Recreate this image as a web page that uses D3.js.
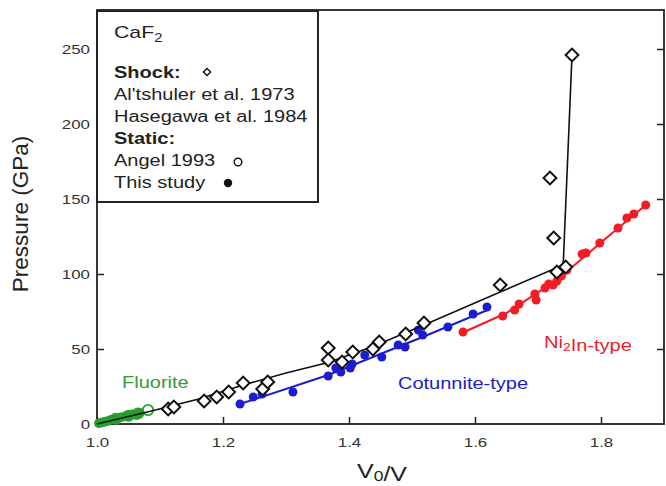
<!DOCTYPE html>
<html><head><meta charset="utf-8">
<script src="https://cdn.jsdelivr.net/npm/d3@7"></script>
<style>body{margin:0;background:#fff}svg{display:block}text{font-family:"Liberation Sans",Arial,sans-serif}</style>
</head><body><svg id="c" width="666" height="486"></svg>
<script>
// ---- data ----
const xTicks = [1.0, 1.2, 1.4, 1.6, 1.8];
const yTicks = [0, 50, 100, 150, 200, 250];
// Shock (Al'tshuler 1973, Hasegawa 1984) open diamonds
const shockV = [1.113,1.122,1.170,1.190,1.209,1.232,1.263,1.271,1.367,1.367,1.389,1.406,1.438,1.448,1.490,1.519,1.640,1.730,1.744,1.725,1.719,1.754];
const shockP = [10,11.3,15.3,18,21.3,27.3,23.3,28,50.7,42.7,41.3,48,50,54.7,60,67.3,92.7,101.3,104.7,124,164,246];
// Shock fit line
const shockLineV = [1.0,1.03,1.08,1.16,1.232,1.30,1.367,1.44,1.519,1.64,1.740,1.754];
const shockLineP = [0,3,8,16.5,26,34,41,52,66,88,106,246];
// Fluorite (this study) filled
const fluoV = [1.003,1.008,1.012,1.017,1.022,1.027,1.032,1.038,1.044,1.050,1.056,1.062,1.068];
const fluoP = [0.5,1,1.5,2,2.8,3.2,3.5,4.5,5,5.5,6.5,6,7.5];
// Angel 1993 open circles
const angelV = [1.030,1.050,1.065,1.081];
const angelP = [3.5,5.5,7,9.3];
const fluoLineV = [1.0,1.084];
const fluoLineP = [0,9.5];
// Cotunnite-type (this study)
const cotV = [1.227,1.248,1.262,1.311,1.367,1.379,1.387,1.402,1.405,1.425,1.452,1.478,1.489,1.510,1.517,1.557,1.597,1.619];
const cotP = [13.3,18,20,21.3,32,37.3,34.7,37.3,40,46,44.7,52.7,51.3,62.7,59.3,64.7,73.3,78];
const cotLineV = [1.227,1.367,1.513,1.620];
const cotLineP = [13.3,32.7,57.3,76];
// Ni2In-type (this study)
const niV = [1.581,1.644,1.663,1.670,1.695,1.697,1.711,1.717,1.724,1.730,1.737,1.746,1.770,1.776,1.798,1.827,1.841,1.852,1.871];
const niP = [61.3,72,76,80,86.7,82.7,90.7,93.3,92.7,95.3,98.7,102.7,113.3,114,120.7,130.7,137.3,140,146];
const niLineV = [1.581,1.65,1.73,1.80,1.871];
const niLineP = [61,74,96,121,146];

// ---- chart ----
const svg = d3.select('#c');
const L=97, R=664, T=10, B=424;
const x = d3.scaleLinear().domain([1.0,1.9]).range([L,R]);
const y = d3.scaleLinear().domain([0,276]).range([B,T]);
const SX = 1.25;
const zip = (a,b)=>a.map((v,i)=>[v,b[i]]);
const line = d3.line().x(d=>x(d[0])).y(d=>y(d[1]));
const BLUE='#1c1cd0', RED='#f21c24', GREEN='#24a02a';

function text(px,py,parts,size,opts={}){
  const t = svg.append('text').attr('transform',`translate(${px},${py}) scale(${SX},1)`)
    .attr('font-size',size).attr('fill',opts.fill||'#222')
    .attr('font-weight',opts.bold?'bold':'normal')
    .attr('text-anchor',opts.anchor||'start');
  const subDy = opts.subDy || size*0.25;
  parts.forEach(p=>{
    if(typeof p==='string') t.append('tspan').text(p);
    else { t.append('tspan').attr('dy',subDy).attr('font-size',size*0.7).text(p.sub);
           t.append('tspan').attr('dy',-subDy).text(''); }
  });
  return t;
}

// axes
const xa = svg.append('g').attr('transform',`translate(0,${B})`)
  .call(d3.axisBottom(x).tickValues(xTicks).tickFormat(d3.format('.1f')).tickSizeInner(-7).tickSizeOuter(0).tickPadding(13));
xa.selectAll('text').attr('transform',`scale(${SX},1)`).attr('font-size',13.5).attr('fill','#333');
const ya = svg.append('g').attr('transform',`translate(${L},0)`)
  .call(d3.axisLeft(y).tickValues(yTicks).tickSizeInner(-7).tickSizeOuter(0).tickPadding(5.6));
ya.selectAll('text').attr('transform',`scale(${SX},1)`).attr('font-size',13.5).attr('fill','#333');
svg.append('g').attr('transform',`translate(${R},0)`)
  .call(d3.axisRight(y).tickValues(yTicks.slice(1)).tickFormat('').tickSizeInner(-7).tickSizeOuter(0));
svg.selectAll('.domain').remove();
svg.selectAll('.tick line').attr('stroke','#222').attr('stroke-width',1.5);
svg.append('rect').attr('x',L).attr('y',T).attr('width',R-L).attr('height',B-T)
  .attr('fill','none').attr('stroke','#222').attr('stroke-width',1.8);

// axis labels
text(382,478,['V',{sub:'0'},'/V'],20,{anchor:'middle',subDy:3});
svg.append('text').attr('transform','translate(28,214) rotate(-90)').attr('text-anchor','middle')
  .attr('font-size',22.5).attr('fill','#222').text('Pressure (GPa)');

// lines & colored data
svg.append('path').attr('d',line(zip(fluoLineV,fluoLineP))).attr('fill','none').attr('stroke',GREEN).attr('stroke-width',2);
svg.append('path').attr('d',line(zip(cotLineV,cotLineP))).attr('fill','none').attr('stroke',BLUE).attr('stroke-width',2);
svg.append('path').attr('d',line(zip(niLineV,niLineP))).attr('fill','none').attr('stroke',RED).attr('stroke-width',2);

svg.append('g').selectAll('circle').data(zip(angelV,angelP)).join('circle')
  .attr('cx',d=>x(d[0])).attr('cy',d=>y(d[1])).attr('r',5.2).attr('fill','#fff').attr('stroke',GREEN).attr('stroke-width',1.8);
svg.append('g').selectAll('circle').data(zip(fluoV,fluoP)).join('circle')
  .attr('cx',d=>x(d[0])).attr('cy',d=>y(d[1])).attr('r',4.8).attr('fill',GREEN);
svg.append('g').selectAll('circle').data(zip(cotV,cotP)).join('circle')
  .attr('cx',d=>x(d[0])).attr('cy',d=>y(d[1])).attr('r',4.5).attr('fill',BLUE);
svg.append('g').selectAll('circle').data(zip(niV,niP)).join('circle')
  .attr('cx',d=>x(d[0])).attr('cy',d=>y(d[1])).attr('r',4.5).attr('fill',RED);

// shock
svg.append('path').attr('d',line(zip(shockLineV,shockLineP))).attr('fill','none').attr('stroke','#111').attr('stroke-width',1.6);
const diamond = d3.symbol().type(d3.symbolSquare).size(82);
svg.append('g').selectAll('path').data(zip(shockV,shockP)).join('path')
  .attr('d',diamond).attr('transform',d=>`translate(${x(d[0])},${y(d[1])}) rotate(45)`)
  .attr('fill','#fff').attr('stroke','#111').attr('stroke-width',2);

// region labels
text(122,388,['Fluorite'],16,{fill:'#3a9a3a'});
text(398,389,['Cotunnite-type'],16,{fill:'#2020c8'});
text(544,348,['Ni',{sub:'2'},'In-type'],16,{fill:'#e8202c',subDy:3});

// legend
svg.append('rect').attr('x',L).attr('y',11).attr('width',221).attr('height',191)
  .attr('fill','#fff').attr('stroke','#222').attr('stroke-width',2);
text(114,38,['CaF',{sub:'2'}],17,{subDy:4});
text(114,78,['Shock:'],16,{bold:true});
text(114,100,["Al'tshuler et al. 1973"],16);
text(114,122,['Hasegawa et al. 1984'],16);
text(114,144,['Static:'],16,{bold:true});
text(114,166,['Angel 1993'],16);
text(114,188,['This study'],16);
svg.append('path').attr('d',d3.symbol().type(d3.symbolSquare).size(26)).attr('transform','translate(207,72) rotate(45)')
  .attr('fill','#fff').attr('stroke','#111').attr('stroke-width',1.4);
svg.append('circle').attr('cx',238).attr('cy',162).attr('r',3.8).attr('fill','#fff').attr('stroke','#111').attr('stroke-width',1.4);
svg.append('circle').attr('cx',228).attr('cy',183).attr('r',4.2).attr('fill','#111');
</script></body></html>
